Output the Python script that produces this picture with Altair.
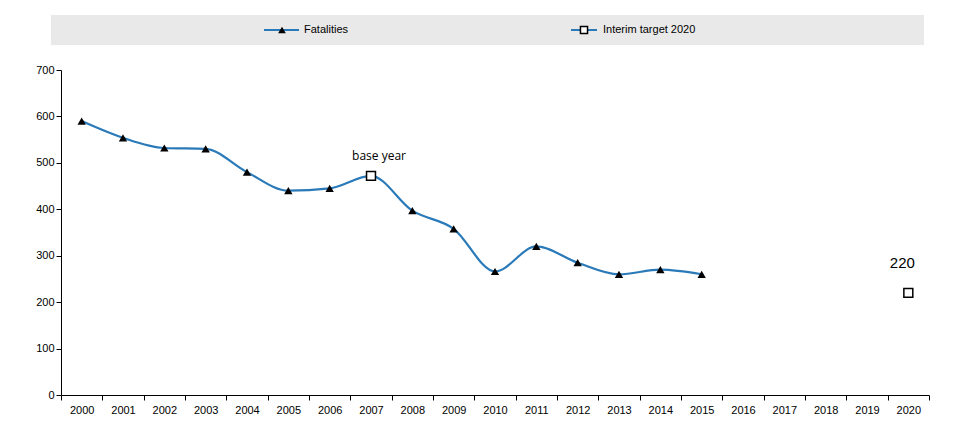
import altair as alt
import pandas as pd

years = [str(y) for y in range(2000, 2021)]
fat_years = [str(y) for y in range(2000, 2016)]
fatalities = [590, 554, 532, 530, 480, 440, 445, 472, 397, 358, 266, 320, 285, 260, 270, 260]
target_years = ["2007", "2020"]
target_vals = [472, 220]
target_labels = ["base year", "220"]

df = pd.DataFrame({"year": fat_years, "v": fatalities})
tf = pd.DataFrame({"year": target_years, "v": target_vals, "lab": target_labels})
one = pd.DataFrame({"a": [0]})

BLUE = "#2a7ab9"
xenc = alt.X("year:O", scale=alt.Scale(domain=years, paddingInner=0, paddingOuter=0),
             axis=alt.Axis(title=None, labelAngle=0, tickBand="extent", labelFont="Liberation Sans",
                           labelFontSize=11, labelColor="black", domainColor="black", tickColor="black",
                           labelPadding=4))
yenc = alt.Y("v:Q", scale=alt.Scale(domain=[0, 700]),
             axis=alt.Axis(title=None, values=list(range(0, 701, 100)), grid=False, labelFont="Liberation Sans",
                           labelFontSize=11, labelColor="black", domainColor="black", tickColor="black"))

line = alt.Chart(df).mark_line(color=BLUE, strokeWidth=2.2, interpolate="monotone").encode(x=xenc, y=yenc)
tri = alt.Chart(df[df.year != "2007"]).mark_point(shape="triangle-up", filled=True, color="black", size=70, opacity=1).encode(x=xenc, y=yenc)
sq = alt.Chart(tf).mark_point(shape="square", filled=True, fill="white", stroke="black", strokeWidth=1.5, size=80, opacity=1).encode(x=xenc, y=yenc)
lab1 = alt.Chart(tf[tf.year == "2007"]).mark_text(dy=-20, dx=8, font="Open Sans", fontSize=12, color="black").encode(x=xenc, y=yenc, text="lab:N")
lab2 = alt.Chart(tf[tf.year == "2020"]).mark_text(dy=-30, dx=-6, font="Liberation Sans", fontSize=15, color="black").encode(x=xenc, y=yenc, text="lab:N")

bg = alt.Chart(one).mark_rect(color="#e9e9e9").encode(x=alt.value(-10), x2=alt.value(863), y=alt.value(-55), y2=alt.value(-25))
l1 = alt.Chart(one).mark_rule(color=BLUE, strokeWidth=2).encode(x=alt.value(203), x2=alt.value(238), y=alt.value(-40))
p1 = alt.Chart(one).mark_point(shape="triangle-up", filled=True, color="black", size=60, opacity=1).encode(x=alt.value(221), y=alt.value(-40))
t1 = alt.Chart(one).mark_text(text="Fatalities", align="left", font="Liberation Sans", fontSize=11, color="black").encode(x=alt.value(243), y=alt.value(-40))
l2 = alt.Chart(one).mark_rule(color=BLUE, strokeWidth=2).encode(x=alt.value(510), x2=alt.value(536), y=alt.value(-40))
p2 = alt.Chart(one).mark_point(shape="square", filled=True, fill="white", stroke="black", strokeWidth=1.5, size=50, opacity=1).encode(x=alt.value(523), y=alt.value(-40))
t2 = alt.Chart(one).mark_text(text="Interim target 2020", align="left", font="Liberation Sans", fontSize=11, color="black").encode(x=alt.value(542), y=alt.value(-40))

chart = alt.layer(bg, l1, p1, t1, l2, p2, t2, line, tri, sq, lab1, lab2).properties(
    width=868, height=325, padding={"left": 27, "top": 7, "right": 0, "bottom": 5}
).configure_view(stroke=None)

chart.save("out.html", embed_options={"renderer": "svg", "actions": False})
